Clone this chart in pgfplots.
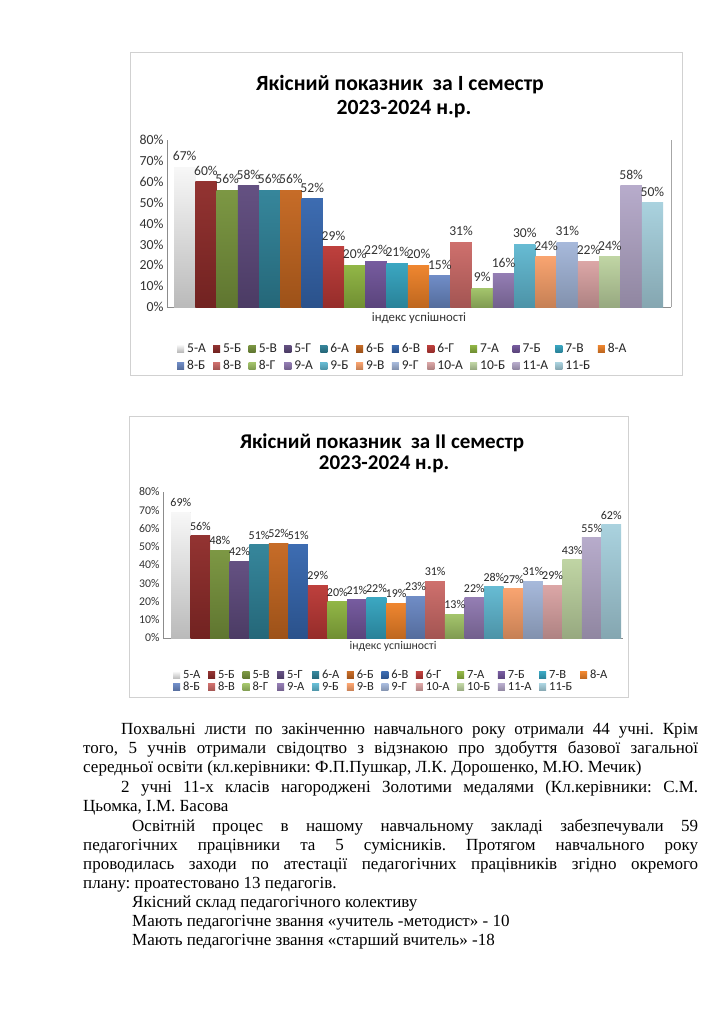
\documentclass[border=0pt]{standalone}
\usepackage{fontspec}
\setmainfont{Liberation Serif}
\newfontfamily\cf{Carlito}
\usepackage{pgfplots}
\pgfplotsset{compat=1.18}
\frenchspacing

\definecolor{k1}{HTML}{DCDCDC}
\definecolor{k2}{HTML}{8E2B29}
\definecolor{k3}{HTML}{77933C}
\definecolor{k4}{HTML}{5E4A7D}
\definecolor{k5}{HTML}{2E8197}
\definecolor{k6}{HTML}{C4661F}
\definecolor{k7}{HTML}{3566AE}
\definecolor{k8}{HTML}{BB3835}
\definecolor{k9}{HTML}{8DB33F}
\definecolor{k10}{HTML}{71559B}
\definecolor{k11}{HTML}{33A3BF}
\definecolor{k12}{HTML}{EE8127}
\definecolor{k13}{HTML}{6A88C4}
\definecolor{k14}{HTML}{CC6A67}
\definecolor{k15}{HTML}{A0C266}
\definecolor{k16}{HTML}{8F78B0}
\definecolor{k17}{HTML}{60B8D1}
\definecolor{k18}{HTML}{F8A06A}
\definecolor{k19}{HTML}{A3B6D9}
\definecolor{k20}{HTML}{DAA3A3}
\definecolor{k21}{HTML}{BDD3A0}
\definecolor{k22}{HTML}{B4A8C9}
\definecolor{k23}{HTML}{A6D0DD}

\pgfplotsset{
  sb/.style={ybar, bar width=1, draw=none, fill=#1, top color=#1!96!white, bottom color=#1!80!black,
    legend image code/.code={\fill[#1] (0pt,-3.5pt) rectangle (7pt,3.5pt);}},
  sbw/.style={ybar, bar width=1, draw=none, fill=k1, top color=black!3, middle color=black!20, bottom color=black!27,
    legend image code/.code={\fill[k1] (0pt,-3.5pt) rectangle (7pt,3.5pt);}},
  common/.style={
    scale only axis, anchor=south west,
    ymin=0, ymax=80, ytick={0,10,...,80},
    yticklabel={\pgfmathprintnumber{\tick}\%},
    /pgf/number format/assume math mode=true,
    xtick=\empty,
    axis x line*=bottom, axis y line*=left,
    axis line style={draw=black!45, line width=0.8pt},
    major tick length=0pt,
    clip=false,
    nodes near coords={\pgfmathprintnumber{\pgfplotspointmeta}\%},
    legend columns=12,
    legend cell align=left,
    xlabel={індекс успішності},
  },
}

\begin{document}
\begin{tikzpicture}
\fill[white] (0,0) rectangle (724pt,-1024pt);
\path[use as bounding box] (0,0) rectangle (724pt,-1024pt);

% ---------- chart 1 ----------
\draw[black!18, line width=0.8pt] (130pt,-52pt) rectangle (682pt,-375pt);
\node[font=\cf\bfseries\fontsize{21.7}{25}\selectfont, anchor=base] at (400pt,-91pt) {Якісний показник\ \ за I семестр};
\node[font=\cf\bfseries\fontsize{21.7}{25}\selectfont, anchor=base] at (404pt,-115pt) {2023-2024 н.р.};

\begin{axis}[common, at={(167pt,-307pt)}, width=504pt, height=167pt,
  xmin=-0.83, xmax=22.876,
  yticklabel style={font=\cf\fontsize{13.8}{14}\selectfont, color=black!80},
  nodes near coords style={font=\cf\fontsize{13.6}{14}\selectfont, color=black!80, anchor=center, yshift=11pt},
  xlabel style={font=\cf\fontsize{12.8}{14}\selectfont, color=black!80, at={(axis description cs:0.5,0)}, anchor=center, yshift=-11pt},
  extra description/.code={\draw[black!35, line width=0.8pt] (axis description cs:1,0) -- (axis description cs:1,1);},
  legend style={at={(0,0)}, anchor=north west, xshift=10pt, yshift=-35pt, draw=none, fill=none, inner sep=0pt,
    font=\cf\fontsize{13.5}{15}\selectfont, text=black!85, row sep=4.5pt,
    nodes={inner sep=1pt},
    /tikz/every even column/.append style={column sep=6.3pt},
    /tikz/every odd column/.append style={column sep=2pt}},
]
\addplot[sbw]    coordinates {(0,67)};  \addlegendentry{5-А}
\addplot[sb=k2]  coordinates {(1,60)};  \addlegendentry{5-Б}
\addplot[sb=k3]  coordinates {(2,56)};  \addlegendentry{5-В}
\addplot[sb=k4]  coordinates {(3,58)};  \addlegendentry{5-Г}
\addplot[sb=k5]  coordinates {(4,56)};  \addlegendentry{6-А}
\addplot[sb=k6]  coordinates {(5,56)};  \addlegendentry{6-Б}
\addplot[sb=k7]  coordinates {(6,52)};  \addlegendentry{6-В}
\addplot[sb=k8]  coordinates {(7,29)};  \addlegendentry{6-Г}
\addplot[sb=k9]  coordinates {(8,20)};  \addlegendentry{7-А}
\addplot[sb=k10] coordinates {(9,22)};  \addlegendentry{7-Б}
\addplot[sb=k11] coordinates {(10,21)}; \addlegendentry{7-В}
\addplot[sb=k12] coordinates {(11,20)}; \addlegendentry{8-А}
\addplot[sb=k13] coordinates {(12,15)}; \addlegendentry{8-Б}
\addplot[sb=k14] coordinates {(13,31)}; \addlegendentry{8-В}
\addplot[sb=k15] coordinates {(14,9)};  \addlegendentry{8-Г}
\addplot[sb=k16] coordinates {(15,16)}; \addlegendentry{9-А}
\addplot[sb=k17] coordinates {(16,30)}; \addlegendentry{9-Б}
\addplot[sb=k18] coordinates {(17,24)}; \addlegendentry{9-В}
\addplot[sb=k19] coordinates {(18,31)}; \addlegendentry{9-Г}
\addplot[sb=k20] coordinates {(19,22)}; \addlegendentry{10-А}
\addplot[sb=k21] coordinates {(20,24)}; \addlegendentry{10-Б}
\addplot[sb=k22] coordinates {(21,58)}; \addlegendentry{11-А}
\addplot[sb=k23] coordinates {(22,50)}; \addlegendentry{11-Б}
\end{axis}

% ---------- chart 2 ----------
\draw[black!18, line width=0.8pt] (129pt,-416pt) rectangle (628pt,-697pt);
\node[font=\cf\bfseries\fontsize{21}{24}\selectfont, anchor=base] at (382pt,-448pt) {Якісний показник\ \ за II семестр};
\node[font=\cf\bfseries\fontsize{21}{24}\selectfont, anchor=base] at (384pt,-469pt) {2023-2024 н.р.};

\begin{axis}[common, at={(163pt,-638pt)}, width=460pt, height=146pt,
  xmin=-0.91, xmax=22.6,
  yticklabel style={font=\cf\fontsize{11.8}{13}\selectfont, color=black!80},
  nodes near coords style={font=\cf\fontsize{12}{13}\selectfont, color=black!85, anchor=center, yshift=9.5pt},
  xlabel style={font=\cf\fontsize{11.8}{13}\selectfont, color=black!80, at={(axis description cs:0.5,0)}, anchor=center, yshift=-8pt},
  legend style={at={(0,0)}, anchor=north west, xshift=10pt, yshift=-31pt, draw=none, fill=none, inner sep=0pt,
    font=\cf\fontsize{12.5}{14}\selectfont, text=black!85, row sep=0pt,
    nodes={inner sep=1pt},
    /tikz/every even column/.append style={column sep=6.6pt},
    /tikz/every odd column/.append style={column sep=2pt}},
]
\addplot[sbw]    coordinates {(0,69)};  \addlegendentry{5-А}
\addplot[sb=k2]  coordinates {(1,56)};  \addlegendentry{5-Б}
\addplot[sb=k3]  coordinates {(2,48)};  \addlegendentry{5-В}
\addplot[sb=k4]  coordinates {(3,42)};  \addlegendentry{5-Г}
\addplot[sb=k5]  coordinates {(4,51)};  \addlegendentry{6-А}
\addplot[sb=k6]  coordinates {(5,52)};  \addlegendentry{6-Б}
\addplot[sb=k7]  coordinates {(6,51)};  \addlegendentry{6-В}
\addplot[sb=k8]  coordinates {(7,29)};  \addlegendentry{6-Г}
\addplot[sb=k9]  coordinates {(8,20)};  \addlegendentry{7-А}
\addplot[sb=k10] coordinates {(9,21)};  \addlegendentry{7-Б}
\addplot[sb=k11] coordinates {(10,22)}; \addlegendentry{7-В}
\addplot[sb=k12] coordinates {(11,19)}; \addlegendentry{8-А}
\addplot[sb=k13] coordinates {(12,23)}; \addlegendentry{8-Б}
\addplot[sb=k14] coordinates {(13,31)}; \addlegendentry{8-В}
\addplot[sb=k15] coordinates {(14,13)}; \addlegendentry{8-Г}
\addplot[sb=k16] coordinates {(15,22)}; \addlegendentry{9-А}
\addplot[sb=k17] coordinates {(16,28)}; \addlegendentry{9-Б}
\addplot[sb=k18] coordinates {(17,27)}; \addlegendentry{9-В}
\addplot[sb=k19] coordinates {(18,31)}; \addlegendentry{9-Г}
\addplot[sb=k20] coordinates {(19,29)}; \addlegendentry{10-А}
\addplot[sb=k21] coordinates {(20,43)}; \addlegendentry{10-Б}
\addplot[sb=k22] coordinates {(21,55)}; \addlegendentry{11-А}
\addplot[sb=k23] coordinates {(22,62)}; \addlegendentry{11-Б}
\end{axis}

% ---------- text ----------
\begin{scope}[every node/.style={anchor=base west, inner sep=0pt, font=\fontsize{17}{19}\selectfont}]
\node at (121pt,-734pt) {\makebox[577pt][s]{Похвальні листи по закінченню навчального року отримали 44 учні. Крім}};
\node at (83pt,-753pt) {\makebox[615pt][s]{того, 5 учнів отримали свідоцтво з відзнакою про здобуття базової загальної}};
\node at (83pt,-772pt) {середньої освіти (кл.керівники: Ф.П.Пушкар, Л.К. Дорошенко, М.Ю. Мечик)};
\node at (121pt,-792pt) {\makebox[577pt][s]{2 учні 11-х класів нагороджені Золотими медалями (Кл.керівники: С.М.}};
\node at (83pt,-811pt) {Цьомка, І.М. Басова};
\node at (132pt,-831pt) {\makebox[566pt][s]{Освітній процес в нашому навчальному закладі забезпечували 59}};
\node at (83pt,-850pt) {\makebox[615pt][s]{педагогічних працівники та 5 сумісників. Протягом навчального року}};
\node at (83pt,-869pt) {\makebox[615pt][s]{проводилась заходи по атестації педагогічних працівників згідно окремого}};
\node at (83pt,-888pt) {плану: проатестовано 13 педагогів.};
\node at (132pt,-907pt) {Якісний склад педагогічного колективу};
\node at (132pt,-926pt) {Мають педагогічне звання «учитель -методист» - 10};
\node at (132pt,-945pt) {Мають педагогічне звання «старший вчитель» -18};
\end{scope}
\end{tikzpicture}
\end{document}
